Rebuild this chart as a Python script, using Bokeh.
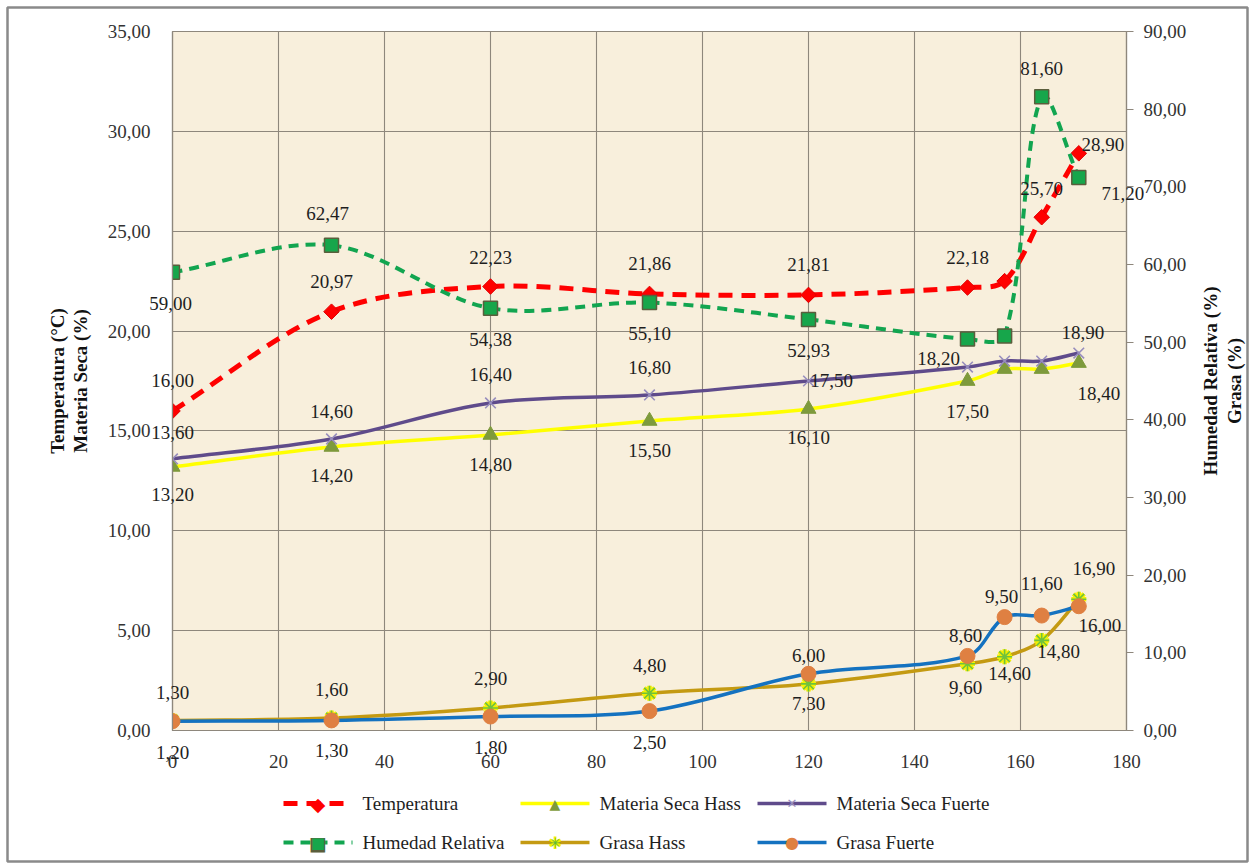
from math import pi, hypot

from bokeh.core.properties import value
from bokeh.embed import file_html
from bokeh.models import ColumnDataSource, FixedTicker, LinearAxis, Range1d
from bokeh.plotting import figure
from bokeh.resources import INLINE

# ---------------------------------------------------------------- data
dias = [0, 30, 60, 90, 120, 150, 157, 164, 171]

temperatura = [16.00, 20.97, 22.23, 21.86, 21.81, 22.18, 22.50, 25.70, 28.90]
materia_seca_hass = [13.20, 14.20, 14.80, 15.50, 16.10, 17.50, 18.10, 18.10, 18.40]
materia_seca_fuerte = [13.60, 14.60, 16.40, 16.80, 17.50, 18.20, 18.50, 18.50, 18.90]

humedad_relativa = [59.00, 62.47, 54.38, 55.10, 52.93, 50.40, 50.80, 81.60, 71.20]
grasa_hass = [1.30, 1.60, 2.90, 4.80, 6.00, 8.60, 9.50, 11.60, 16.90]
grasa_fuerte = [1.20, 1.30, 1.80, 2.50, 7.30, 9.60, 14.60, 14.80, 16.00]

# points that carry a value label
temp_labeled = [1, 1, 1, 1, 1, 1, 0, 1, 1]
hr_labeled = [1, 1, 1, 1, 1, 0, 0, 1, 1]
msh_labeled = [1, 1, 1, 1, 1, 1, 0, 0, 1]
msf_labeled = [1, 1, 1, 1, 1, 1, 0, 0, 1]
gh_labeled = [1, 1, 1, 1, 1, 1, 1, 1, 1]
gf_labeled = [1, 1, 1, 1, 1, 1, 1, 1, 1]

x_ticks = [0, 20, 40, 60, 80, 100, 120, 140, 160, 180]
x_tick_labels = ["0", "20", "40", "60", "80", "100", "120", "140", "160", "180"]
left_ticks = [0, 5, 10, 15, 20, 25, 30, 35]
left_tick_labels = ["0,00", "5,00", "10,00", "15,00", "20,00", "25,00", "30,00", "35,00"]
right_ticks = [0, 10, 20, 30, 40, 50, 60, 70, 80, 90]
right_tick_labels = ["0,00", "10,00", "20,00", "30,00", "40,00", "50,00",
                     "60,00", "70,00", "80,00", "90,00"]

series_names = ["Temperatura", "Materia Seca Hass", "Materia Seca Fuerte",
                "Humedad Relativa", "Grasa Hass", "Grasa Fuerte"]
left_title = "Temperatura (°C)\nMateria Seca (%)"
right_title = "Humedad Relativa (%)\nGrasa (%)"

# ---------------------------------------------------------------- label placement (pixels, +y is down)
temp_off = [(0, -30), (0, -30), (0, -29), (0, -30), (0, -30), (0, -30), (0, 0), (0, -29), (24, -9)]
hr_off = [(-2, 31), (-4, -32), (0, 31), (0, 31), (0, 31), (0, 0), (0, 0), (0, -28), (44, 16)]
msh_off = [(0, 28), (0, 29), (0, 30), (0, 30), (0, 29), (0, 30), (0, 0), (0, 0), (20, 30)]
msf_off = [(0, -26), (0, -27), (0, -28), (0, -27), (23, -1), (-29, -9), (0, 0), (0, 0), (4, -21)]
gh_off = [(0, -28), (0, -29), (0, -29), (0, -28), (0, -28), (-2, -28), (-3, -60), (0, -57), (15, -31)]
gf_off = [(0, 31), (0, 30), (0, 31), (0, 31), (0, 30), (-2, 32), (5, 56), (17, 36), (21, 19)]

# ---------------------------------------------------------------- figure geometry
W, H = 1254, 866
FL, FR, FT, FB = 172, 1126, 31, 730
X_MAX, YL_MAX, YR_MAX = 180, 35, 90
PX_X = (FR - FL) / X_MAX
PX_L = (FB - FT) / YL_MAX
PX_R = (FB - FT) / YR_MAX

SERIF = "Liberation Serif"
GRID = "#8E877C"
TEXT = "#1E1E1E"


def to_data(cx, cy):
    """Canvas pixel -> primary-axis data coordinates."""
    return (cx - FL) / PX_X, (FB - cy) / PX_L


p = figure(width=W, height=H, output_backend="svg", toolbar_location=None,
           x_range=Range1d(0, X_MAX), y_range=Range1d(0, YL_MAX),
           min_border_left=FL, min_border_right=W - FR,
           min_border_top=FT, min_border_bottom=H - FB,
           background_fill_color="#F8EFDC", border_fill_color="white",
           outline_line_color=GRID, outline_line_width=1.2)
p.extra_y_ranges = {"right": Range1d(0, YR_MAX)}

# axes
p.xaxis.ticker = FixedTicker(ticks=x_ticks)
p.xaxis.major_label_overrides = dict(zip(x_ticks, x_tick_labels))
p.yaxis.ticker = FixedTicker(ticks=left_ticks)
p.yaxis.major_label_overrides = dict(zip(left_ticks, left_tick_labels))

right_axis = LinearAxis(y_range_name="right", ticker=FixedTicker(ticks=right_ticks))
right_axis.major_label_overrides = dict(zip(right_ticks, right_tick_labels))
p.add_layout(right_axis, "right")

for ax in (p.xaxis[0], p.yaxis[0], right_axis):
    ax.axis_line_color = GRID
    ax.axis_line_width = 1.2
    ax.major_tick_line_color = GRID
    ax.major_tick_in = 0
    ax.major_tick_out = 0
    ax.minor_tick_line_color = None
    ax.major_label_text_font = SERIF
    ax.major_label_text_font_size = "19px"
    ax.major_label_text_color = "#333333"
right_axis.major_tick_out = 7
right_axis.major_label_standoff = 10
p.yaxis[0].major_label_standoff = 22
p.xaxis[0].major_label_standoff = 24

# left axis title
yl = p.yaxis[0]
yl.axis_label = left_title
yl.axis_label_text_font = SERIF
yl.axis_label_text_font_size = "19px"
yl.axis_label_text_font_style = "bold"
yl.axis_label_text_color = "#111111"
yl.axis_label_text_line_height = 1.1
yl.axis_label_standoff = 14

p.xgrid.ticker = FixedTicker(ticks=x_ticks)
p.ygrid.ticker = FixedTicker(ticks=left_ticks)
for g in (p.xgrid[0], p.ygrid[0]):
    g.grid_line_color = GRID
    g.grid_line_width = 1.1


# ---------------------------------------------------------------- smooth curves
def smooth_segments(xs, ys, py):
    """Cubic Bezier pieces through every point (length-weighted Catmull-Rom)."""
    pts = [(x * PX_X, y * py) for x, y in zip(xs, ys)]
    n = len(pts)
    segs = dict(x0=[], y0=[], x1=[], y1=[], cx0=[], cy0=[], cx1=[], cy1=[])
    for i in range(n - 1):
        a = pts[i - 1] if i > 0 else pts[i]
        b, c = pts[i], pts[i + 1]
        d = pts[i + 2] if i + 2 < n else pts[i + 1]
        dab = hypot(b[0] - a[0], b[1] - a[1])
        dbc = hypot(c[0] - b[0], c[1] - b[1])
        dcd = hypot(d[0] - c[0], d[1] - c[1])
        f1 = dbc / (dab + dbc) if dab + dbc else 0
        f2 = dbc / (dbc + dcd) if dbc + dcd else 0
        c1 = (b[0] + (c[0] - a[0]) * f1 / 3, b[1] + (c[1] - a[1]) * f1 / 3)
        c2 = (c[0] - (d[0] - b[0]) * f2 / 3, c[1] - (d[1] - b[1]) * f2 / 3)
        segs["x0"].append(b[0] / PX_X); segs["y0"].append(b[1] / py)
        segs["x1"].append(c[0] / PX_X); segs["y1"].append(c[1] / py)
        segs["cx0"].append(c1[0] / PX_X); segs["cy0"].append(c1[1] / py)
        segs["cx1"].append(c2[0] / PX_X); segs["cy1"].append(c2[1] / py)
    return ColumnDataSource(segs)


def curve(ys, axis, **line):
    py = PX_L if axis == "default" else PX_R
    src = smooth_segments(dias, ys, py)
    return p.bezier("x0", "y0", "x1", "y1", "cx0", "cy0", "cx1", "cy1", source=src,
                    y_range_name=axis, line_cap="butt", **line)


def fmt(v):
    return f"{v:.2f}".replace(".", ",")


def value_labels(ys, flags, offs, axis):
    keep = [i for i, f in enumerate(flags) if f]
    src = ColumnDataSource(dict(
        x=[dias[i] for i in keep], y=[ys[i] for i in keep],
        t=[fmt(ys[i]) for i in keep],
        dx=[offs[i][0] for i in keep], dy=[offs[i][1] for i in keep]))
    # overlay level: labels near the frame edges are not cut off
    p.text("x", "y", text="t", source=src, y_range_name=axis, level="overlay",
           x_offset="dx", y_offset="dy", text_align="center", text_baseline="middle",
           text_font=value(SERIF), text_font_size="19px", text_color=TEXT)


# line styles
TEMP_STYLE = dict(line_color="#FF0000", line_width=5, line_dash="14 9")
MSH_STYLE = dict(line_color="#FFFF00", line_width=3.5)
MSF_STYLE = dict(line_color="#5F4B8B", line_width=3.5)
HR_STYLE = dict(line_color="#12A550", line_width=4, line_dash="10 7")
GH_STYLE = dict(line_color="#C49A12", line_width=3.5)
GF_STYLE = dict(line_color="#1472C0", line_width=3.5)

# marker styles (a series may stack more than one)
TEMP_MARK = [dict(marker="square", angle=pi / 4, size=11, fill_color="#FF0000", line_color="#E00000")]
MSH_MARK = [dict(marker="triangle", size=15, fill_color="#7E9A3C", line_color="#7E9A3C")]
MSF_MARK = [dict(marker="x", size=15, line_color="#978DBD", line_width=1.6)]
HR_MARK = [dict(marker="square", size=14, fill_color="#17A64B", line_color="#5A5E3C", line_width=1.5)]
GH_MARK = [dict(marker="asterisk", size=15, line_color="#F4F000", line_width=4.5),
           dict(marker="asterisk", size=15, line_color="#6FC23C", line_width=1.6)]
GF_MARK = [dict(marker="circle", size=15, fill_color="#DF8042", line_color="#DF8042")]

# legend swatch symbols: (character, colour, font size, vertical nudge px)
TEMP_KEY = [("◆", "#FF0000", "19px", 0)]
MSH_KEY = [("▲", "#7E9A3C", "14px", 0)]
MSF_KEY = [("✕", "#978DBD", "13px", 0)]
HR_KEY = [("■", "#5A5E3C", "19px", 0), ("■", "#17A64B", "15px", 0)]
GH_KEY = [("✱", "#F4F000", "17px", 0), ("✳", "#5FB83A", "14px", 0)]
GF_KEY = [("●", "#DF8042", "16px", 0)]

SERIES = [
    (temperatura, "default", TEMP_STYLE, TEMP_MARK, TEMP_KEY, temp_labeled, temp_off),
    (materia_seca_hass, "default", MSH_STYLE, MSH_MARK, MSH_KEY, msh_labeled, msh_off),
    (materia_seca_fuerte, "default", MSF_STYLE, MSF_MARK, MSF_KEY, msf_labeled, msf_off),
    (humedad_relativa, "right", HR_STYLE, HR_MARK, HR_KEY, hr_labeled, hr_off),
    (grasa_hass, "right", GH_STYLE, GH_MARK, GH_KEY, gh_labeled, gh_off),
    (grasa_fuerte, "right", GF_STYLE, GF_MARK, GF_KEY, gf_labeled, gf_off),
]

for ys, axis, style, marks, _, _, _ in SERIES:
    curve(ys, axis, **style)
    for m in marks:
        p.scatter(dias, ys, y_range_name=axis, **m)

for ys, axis, _, _, _, flags, offs in SERIES:
    value_labels(ys, flags, offs, axis)

# right axis title, written beside the tick labels (reads bottom to top)
tx, ty = to_data(1222, FT + (FB - FT) / 2)
p.text(x=[tx], y=[ty], text=[right_title], angle=pi / 2, level="overlay",
       text_align="center", text_baseline="middle", text_line_height=1.1,
       text_font=value(SERIF), text_font_size="19px", text_font_style="bold",
       text_color="#111111")

# outer chart border, on the overlay level so it may leave the frame
bx0, by1 = to_data(7, 7)
bx1, by0 = to_data(W - 7, H - 5)
p.quad(left=[bx0], right=[bx1], bottom=[by0], top=[by1], level="overlay",
       fill_color=None, line_color="#8A8A8A", line_width=2.5)

# ---------------------------------------------------------------- legend: 2 rows x 3 columns under the axis
LEG_COLS = [283, 520, 757]      # left edge of each swatch (canvas px)
LEG_ROWS = [803, 842]           # centre line of each row (canvas px)
SWATCH = 69
for k, (name, (_, _, style, _, keys, _, _)) in enumerate(zip(series_names, SERIES)):
    cx = LEG_COLS[k % 3]
    cy = LEG_ROWS[k // 3]
    x0, yy = to_data(cx, cy)
    x1, _ = to_data(cx + SWATCH, cy)
    xm = (x0 + x1) / 2
    p.segment(x0=[x0], y0=[yy], x1=[x1], y1=[yy], level="overlay", line_cap="butt", **style)
    for ch, col, fs, nudge in keys:
        p.text(x=[xm], y=[yy], text=[ch], level="overlay", y_offset=nudge,
               text_align="center", text_baseline="middle", text_font=value("DejaVu Sans"),
               text_font_size=fs, text_color=col)
    xt, _ = to_data(cx + SWATCH + 10, cy)
    p.text(x=[xt], y=[yy], text=[name], level="overlay",
           text_align="left", text_baseline="middle", text_font=value(SERIF),
           text_font_size="19px", text_color=TEXT)

open("out.html", "w").write(file_html(p, INLINE))
